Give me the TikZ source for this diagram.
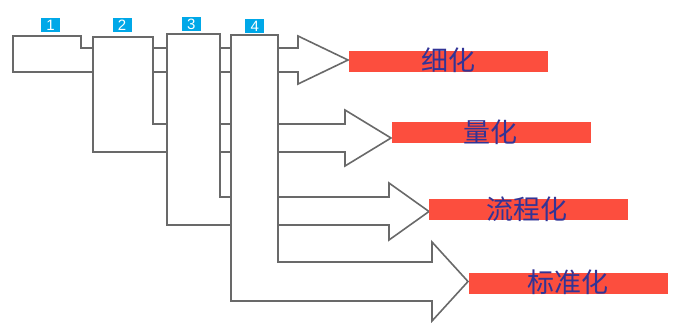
\documentclass[tikz,border=0pt]{standalone}
\usepackage{fontspec}
\usepackage{tikz}
\setsansfont{Liberation Sans}
\newfontfamily\cjkfont{Noto Sans CJK SC}
\definecolor{linegray}{RGB}{105,105,105}
\definecolor{barred}{RGB}{252,78,62}
\definecolor{txtblue}{RGB}{50,52,150}
\definecolor{numblue}{RGB}{0,168,232}

\begin{document}
\begin{tikzpicture}[x=1pt, y=-1pt,
		block_style/.style={draw=linegray,line width=1.6pt,fill=white,line join=miter},
		bar_style/.style={rectangle,fill=barred,inner sep=0pt,minimum width=199pt,minimum height=21pt},
		txt_style/.style={inner sep=0pt,text=txtblue,font=\cjkfont\fontsize{27}{27}\selectfont},
		num_style/.style={rectangle,fill=numblue,text=white,inner sep=0pt,minimum width=19pt,minimum height=14pt,font=\sffamily\fontsize{15}{15}\selectfont}]
		
		\useasboundingbox (0,0) rectangle (677,322);
		
		% nested blocks, each ending in an arrow
		\draw[block_style] (13,36) -- (81,36) -- (81,48) -- (298,48) -- (298,36) -- (348,60)
			-- (298,84) -- (298,72) -- (13,72) -- cycle;
		\draw[block_style] (93,37) -- (153,37) -- (153,124) -- (345,124) -- (345,110) -- (391,138)
			-- (345,166) -- (345,152) -- (93,152) -- cycle;
		\draw[block_style] (167,34) -- (220,34) -- (220,197) -- (389,197) -- (389,183) -- (429,211.5)
			-- (389,240) -- (389,225) -- (167,225) -- cycle;
		\draw[block_style] (231,35) -- (278,35) -- (278,262) -- (432,262) -- (432,242) -- (468,281.5)
			-- (432,321) -- (432,301) -- (231,301) -- cycle;
		
		\node[num_style] (n1) at (50.5,25.3) {1};
		\node[num_style] (n2) at (122,25.3) {2};
		\node[num_style] (n3) at (191.2,24) {3};
		\node[num_style] (n4) at (254.8,26.2) {4};
		
		\node[bar_style] (b1) at (448.8,61) {};
		\node[bar_style] (b2) at (491.3,132.8) {};
		\node[bar_style] (b3) at (528.7,209.7) {};
		\node[bar_style] (b4) at (568.8,283) {};
		
		\node[txt_style] (t1) at (448,60) {细化};
		\node[txt_style] (t2) at (490,132) {量化};
		\node[txt_style] (t3) at (527,209) {流程化};
		\node[txt_style] (t4) at (568,282) {标准化};
		
\end{tikzpicture}
\end{document}
